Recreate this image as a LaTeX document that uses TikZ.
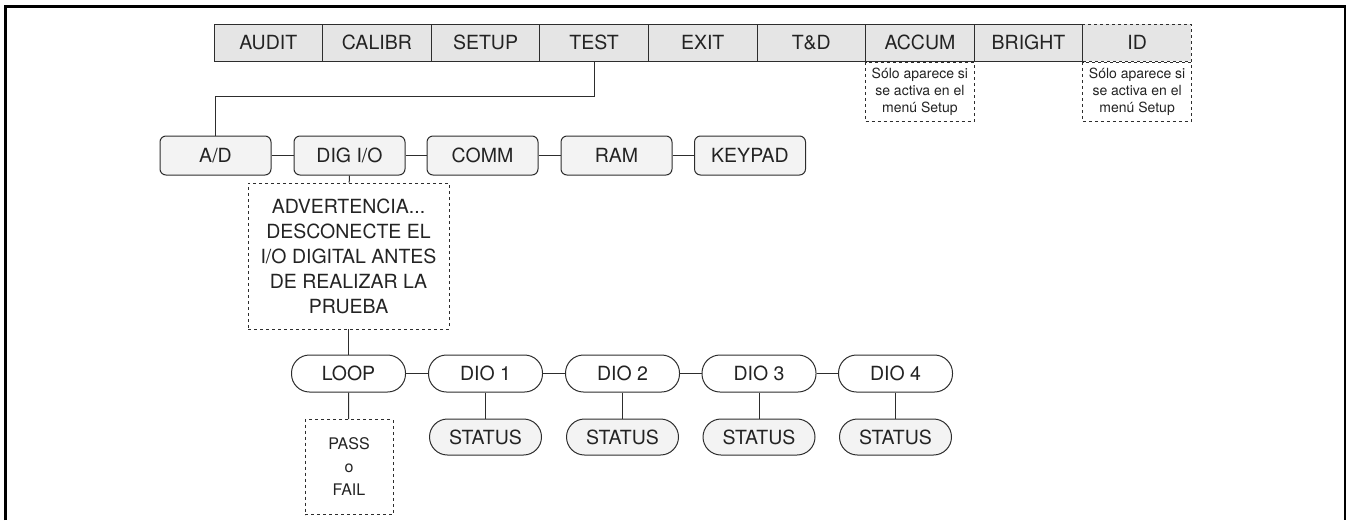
\documentclass[tikz,border=0pt]{standalone}
\usepackage{fontspec}
\setmainfont{TeX Gyre Heros}
\usepackage{xcolor}
\definecolor{menugray}{RGB}{229,229,229}
\definecolor{subgray}{RGB}{243,243,243}
\definecolor{inkgray}{RGB}{45,45,45}
\definecolor{textgray}{RGB}{35,35,35}
\usetikzlibrary{positioning}

\begin{document}
\begin{tikzpicture}[x=1pt,y=-1pt,
  menu/.style={draw=inkgray, fill=menugray, line width=1pt, minimum width=108.6pt, minimum height=37pt, inner sep=0pt, text=textgray, font=\fontsize{19.5}{22}\selectfont},
  note/.style={draw=inkgray, dashed, line width=0.9pt, minimum width=108.6pt, minimum height=59pt, inner sep=0pt, align=center, text=textgray, font=\fontsize{14}{17}\selectfont},
  sub/.style={draw=inkgray, fill=subgray, line width=1pt, rounded corners=6pt, minimum width=111pt, minimum height=39pt, inner sep=0pt, text=textgray, font=\fontsize{19.5}{22}\selectfont},
  pill/.style={draw=inkgray, fill=white, line width=1pt, rounded corners=18pt, minimum width=114pt, minimum height=37pt, inner sep=0pt, text=textgray, font=\fontsize{19.5}{22}\selectfont},
  stat/.style={pill, fill=subgray, minimum width=112pt, minimum height=36pt},
  link/.style={draw=inkgray, line width=1pt}]
  \useasboundingbox (0,0) rectangle (1348,520);

  % frame
  \draw[line width=2.5pt] (5.5,520) -- (5.5,6.5) -- (1345,6.5) -- (1345,520);

  % top menu
  \node[menu] (audit) at (268.3,42.5) {AUDIT};
  \node[menu] (calibr) at (376.9,42.5) {CALIBR};
  \node[menu] (setup) at (485.5,42.5) {SETUP};
  \node[menu] (test) at (594.1,42.5) {TEST};
  \node[menu] (exit) at (702.7,42.5) {EXIT};
  \node[menu] (td) at (811.3,42.5) {T\&D};
  \node[menu] (accum) at (919.9,42.5) {ACCUM};
  \node[menu] (bright) at (1028.5,42.5) {BRIGHT};
  \node[menu, dashed] (id) at (1137.1,42.5) {ID};

  % notes under ACCUM and ID
  \node[note, anchor=north] (accumnote) at (accum.south) {Sólo aparece si\\se activa en el\\menú Setup};
  \node[note, anchor=north] (idnote) at (id.south) {Sólo aparece si\\se activa en el\\menú Setup};

  % TEST submenu
  \node[sub] (ad) at (215.5,155.5) {A/D};
  \node[sub] (digio) at (349.5,155.5) {DIG I/O};
  \node[sub] (comm) at (482.5,155.5) {COMM};
  \node[sub] (ram) at (616.5,155.5) {RAM};
  \node[sub] (keypad) at (750,155.5) {KEYPAD};
  \draw[link] (test.south) -- ++(0,35) -| (ad.north);
  \draw[link] (ad) -- (digio);
  \draw[link] (digio) -- (comm);
  \draw[link] (comm) -- (ram);
  \draw[link] (ram) -- (keypad);

  % warning box
  \node[draw=inkgray, dashed, line width=0.9pt, minimum width=201pt, minimum height=146pt, inner sep=0pt, align=center, text=textgray, font=\fontsize{19.5}{25}\selectfont] (warn) at (348.5,256) {ADVERTENCIA...\\DESCONECTE EL\\I/O DIGITAL ANTES\\DE REALIZAR LA\\PRUEBA};
  \draw[link] (digio) -- (warn);

  % DIG I/O tests
  \node[pill] (loop) at (348.5,373.5) {LOOP};
  \node[pill] (dioa) at (485.5,373.5) {DIO 1};
  \node[pill] (diob) at (622.5,373.5) {DIO 2};
  \node[pill] (dioc) at (759,373.5) {DIO 3};
  \node[pill] (diod) at (895.5,373.5) {DIO 4};
  \draw[link] (warn) -- (loop);
  \draw[link] (loop) -- (dioa);
  \draw[link] (dioa) -- (diob);
  \draw[link] (diob) -- (dioc);
  \draw[link] (dioc) -- (diod);

  % status and result
  \node[stat] (sta) at (485.5,437) {STATUS};
  \node[stat] (stb) at (622.5,437) {STATUS};
  \node[stat] (stc) at (759,437) {STATUS};
  \node[stat] (std) at (895.5,437) {STATUS};
  \node[draw=inkgray, dashed, line width=0.9pt, minimum width=88pt, minimum height=95pt, inner sep=0pt, align=center, text=textgray, font=\fontsize{16}{23}\selectfont] (pass) at (349,467) {PASS\\o\\FAIL};
  \draw[link] (loop) -- (pass);
  \draw[link] (dioa) -- (sta);
  \draw[link] (diob) -- (stb);
  \draw[link] (dioc) -- (stc);
  \draw[link] (diod) -- (std);
\end{tikzpicture}
\end{document}
